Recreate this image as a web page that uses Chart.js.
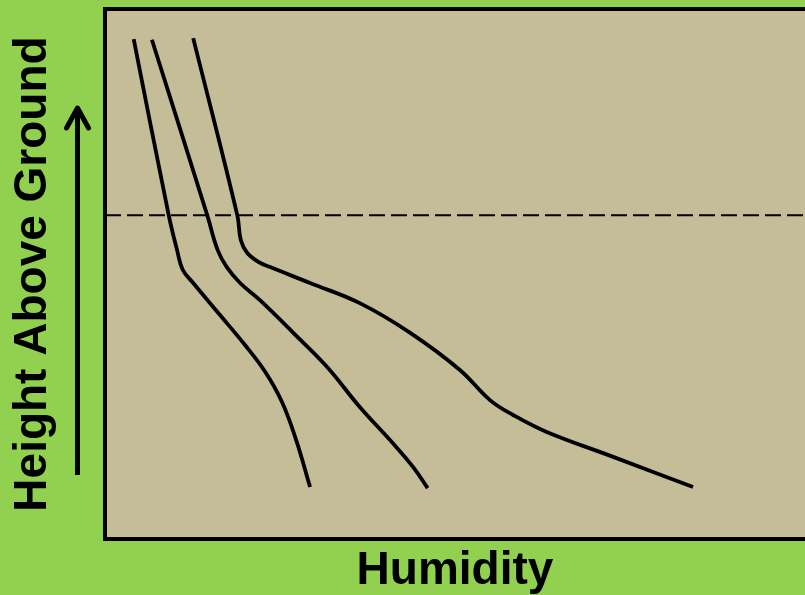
<!DOCTYPE html>
<html>
<head>
<meta charset="utf-8">
<script src="https://cdn.jsdelivr.net/npm/chart.js@4/dist/chart.umd.min.js"></script>
<style>
  html, body { margin: 0; padding: 0; background: #92D050; }
  #wrap { width: 805px; height: 595px; }
</style>
</head>
<body>
<div id="wrap"><canvas id="humidityChart"></canvas></div>
<script>
  const greenBg = "#92D050";
  const tanBg = "#C4BD97";

  // humidity (x) / height (y) profiles
  const curve1_x = [4.1, 9.1, 10.3, 11.1, 12.6, 16.4, 20.0, 22.9, 25.3, 27.3, 29.3];
  const curve1_y = [94.3, 61.1, 54.5, 50.8, 48.3, 42.3, 36.6, 31.5, 25.8, 18.7, 9.8];

  const curve2_x = [6.7, 14.6, 16.1, 17.4, 19.3, 22.1, 26.9, 31.7, 36.4, 41.1, 44.0, 46.1];
  const curve2_y = [94.2, 61.1, 54.5, 51.3, 48.3, 45.1, 38.9, 32.5, 24.9, 18.1, 13.6, 9.6];

  const curve3_x = [12.6, 18.9, 19.4, 20.3, 21.9, 23.6, 29.3, 36.4, 43.6, 50.7, 55.0, 58.3, 63.1, 72.6, 84.0];
  const curve3_y = [94.5, 61.1, 56.4, 54.0, 52.3, 51.3, 48.3, 44.5, 38.9, 31.9, 26.2, 23.4, 20.2, 15.5, 9.8];

  // dashed reference level
  const level_x = [0, 100];
  const level_y = [61.1, 61.1];

  function toPoints(xs, ys) {
    return xs.map((x, i) => ({ x: x, y: ys[i] }));
  }

  //background, frame and the arrow next to the y title
  const decorPlugin = {
    id: "decor",
    beforeDraw(chart) {
      const { ctx, chartArea } = chart;
      ctx.save();
      ctx.fillStyle = greenBg;
      ctx.fillRect(0, 0, chart.width, chart.height);
      ctx.fillStyle = tanBg;
      ctx.fillRect(chartArea.left, chartArea.top, chartArea.right - chartArea.left, chartArea.bottom - chartArea.top);
      ctx.restore();
    },
    afterDraw(chart) {
      const { ctx, chartArea } = chart;
      ctx.save();
      ctx.strokeStyle = "#000";
      ctx.lineWidth = 4;
      ctx.lineJoin = "miter";
      ctx.strokeRect(chartArea.left, chartArea.top, chartArea.right - chartArea.left + 10, chartArea.bottom - chartArea.top);

      // arrow
      const ax = chartArea.left - 27.5;
      const tipY = chartArea.top + 97;
      const baseY = chartArea.bottom - 64;
      ctx.lineWidth = 5;
      ctx.lineCap = "butt";
      ctx.beginPath();
      ctx.moveTo(ax, baseY);
      ctx.lineTo(ax, tipY + 2);
      ctx.stroke();
      ctx.lineCap = "round";
      ctx.lineJoin = "round";
      ctx.beginPath();
      ctx.moveTo(ax - 11, tipY + 22);
      ctx.lineTo(ax, tipY + 2);
      ctx.lineTo(ax + 11, tipY + 22);
      ctx.stroke();
      ctx.restore();
    },
  };

  const curveStyle = {
    borderColor: "#000",
    borderWidth: 3.8,
    pointRadius: 0,
    tension: 0.4,
    fill: false,
  };

  new Chart(document.getElementById("humidityChart"), {
    type: "line",
    data: {
      datasets: [
        Object.assign({ label: "Profile 1", data: toPoints(curve1_x, curve1_y) }, curveStyle),
        Object.assign({ label: "Profile 2", data: toPoints(curve2_x, curve2_y) }, curveStyle),
        Object.assign({ label: "Profile 3", data: toPoints(curve3_x, curve3_y) }, curveStyle),
        {
          label: "Level",
          data: toPoints(level_x, level_y),
          borderColor: "#000",
          borderWidth: 2,
          borderDash: [16, 6],
          pointRadius: 0,
          tension: 0,
          fill: false,
        },
      ],
    },
    options: {
      responsive: true,
      maintainAspectRatio: false,
      animation: false,
      layout: { padding: { top: 9, left: 0, right: 0, bottom: 0 } },
      scales: {
        x: {
          type: "linear",
          min: 0,
          max: 100,
          ticks: { display: false },
          grid: { display: false, drawTicks: false },
          border: { display: false },
          title: {
            display: true,
            text: "Humidity",
            color: "#000",
            font: { family: "Liberation Sans", weight: "bold", size: 46, lineHeight: 1 },
            padding: { top: 9, bottom: 1 },
          },
        },
        y: {
          type: "linear",
          min: 0,
          max: 100,
          ticks: { display: false },
          grid: { display: false, drawTicks: false },
          border: { display: false },
          title: {
            display: true,
            text: "Height Above Ground",
            color: "#000",
            font: { family: "Liberation Sans", weight: "bold", size: 46, lineHeight: 1 },
            padding: { top: 10, bottom: 49 },
          },
        },
      },
      plugins: {
        legend: { display: false },
        tooltip: { enabled: false },
      },
    },
    plugins: [decorPlugin],
  });
</script>
</body>
</html>
